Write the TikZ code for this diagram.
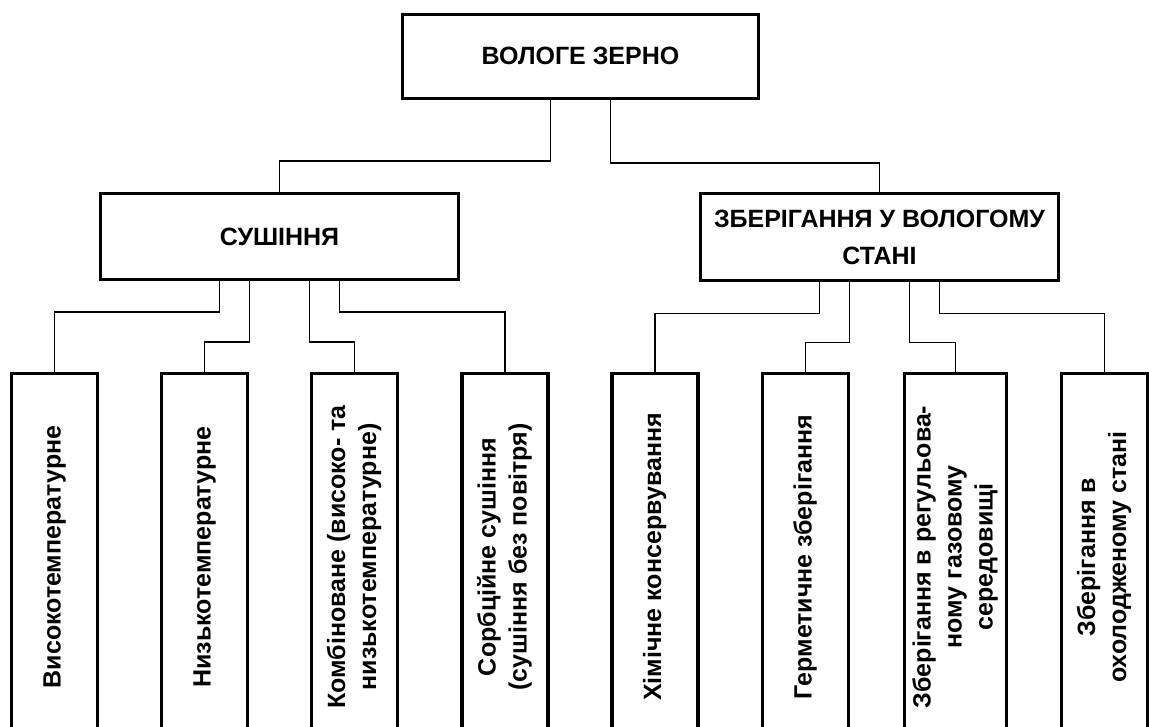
\documentclass[tikz,border=0pt]{standalone}
\usepackage{fontspec}
\setmainfont{Liberation Sans}
\usepackage{graphicx}

% vertical label stack for the tall boxes (trailing space nudges it down a little)
\newcommand{\uplabel}[1]{\rotatebox{90}{\begin{tabular}{@{}c@{}}#1\end{tabular}\hspace{10pt}}}

\begin{document}
\begin{tikzpicture}[x=1pt,y=-1pt,
  box/.style={draw, line width=3.2pt, inner sep=0pt, align=center,
    font=\bfseries\fontsize{25}{37}\selectfont},
  leaf/.style={draw, line width=3.2pt, inner sep=0pt,
    minimum width=86pt, minimum height=357pt,
    font=\bfseries\fontsize{25}{31}\selectfont},
  link/.style={line width=1.4pt}]
\useasboundingbox (0,0) rectangle (1149,727);

% top level
\node[box, minimum width=356pt, minimum height=84pt] (root) at (580.5,56.3) {ВОЛОГЕ ЗЕРНО};

% second level
\node[box, minimum width=358pt, minimum height=86pt] (dry) at (279.5,236.5) {СУШІННЯ};
\node[box, minimum width=358pt, minimum height=87pt] (wet) at (879.5,237.2)
  {ЗБЕРІГАННЯ У ВОЛОГОМУ\\СТАНІ};

% third level
\node[leaf] (d1) at (54.5,552) {\uplabel{Високотемпературне}};
\node[leaf] (d2) at (204.5,552) {\uplabel{Низькотемпературне}};
\node[leaf] (d3) at (354.5,552) {\uplabel{Комбіноване (високо- та\\низькотемпературне)}};
\node[leaf] (d4) at (505,552) {\uplabel{Сорбційне сушіння\\(сушіння без повітря)}};
\node[leaf] (w1) at (655,552) {\uplabel{Хімічне консервування}};
\node[leaf] (w2) at (805.5,552) {\uplabel{Герметичне зберігання}};
\node[leaf, minimum width=102pt] (w3) at (955.5,552)
  {\uplabel{Зберігання в регульова-\\ному газовому\\середовищі}};
\node[leaf] (w4) at (1104.5,552) {\uplabel{Зберігання в\\охолодженому стані}};

% connectors from the root
\draw[link] ([xshift=-30pt]root.south) -- ++(0,61) -| (dry.north);
\draw[link] ([xshift=30pt]root.south) -- ++(0,63) -| (wet.north);

% connectors from the drying box
\draw[link] ([xshift=-60pt]dry.south) -- ++(0,31) -| (d1.north);
\draw[link] ([xshift=-30pt]dry.south) -- ++(0,61) -| (d2.north);
\draw[link] ([xshift=30pt]dry.south) -- ++(0,61) -| (d3.north);
\draw[link] ([xshift=60pt]dry.south) -- ++(0,31) -| (d4.north);

% connectors from the storage box
\draw[link] ([xshift=-60pt]wet.south) -- ++(0,31) -| (w1.north);
\draw[link] ([xshift=-30pt]wet.south) -- ++(0,60) -| (w2.north);
\draw[link] ([xshift=30pt]wet.south) -- ++(0,60) -| (w3.north);
\draw[link] ([xshift=60pt]wet.south) -- ++(0,31) -| (w4.north);
\end{tikzpicture}
\end{document}
